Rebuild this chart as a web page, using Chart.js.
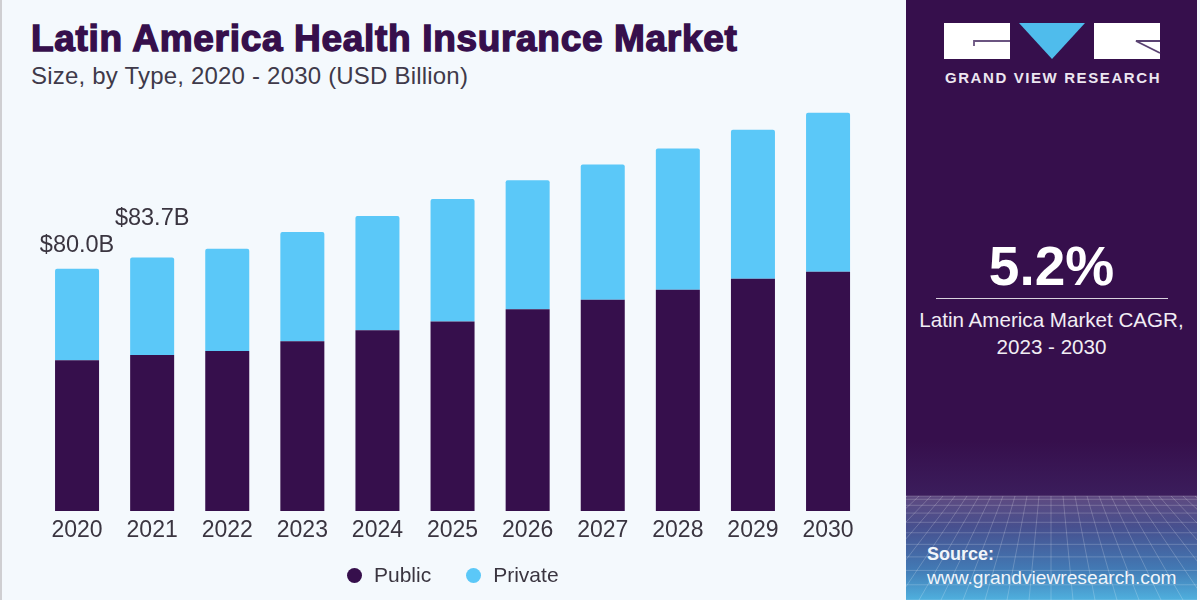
<!DOCTYPE html>
<html>
<head>
<meta charset="utf-8">
<title>Latin America Health Insurance Market</title>
<script src="https://cdn.jsdelivr.net/npm/chart.js@4"></script>
<style>
  html, body { margin: 0; padding: 0; }
  body { width: 1200px; height: 600px; position: relative; overflow: hidden; background: #f4f9fd; font-family: "Liberation Sans", Arial, sans-serif; }
  #edge { position: absolute; left: 0; top: 0; width: 2px; height: 600px; background: #cfcfd2; }
  #title { position: absolute; left: 31px; top: 18px; font-size: 37px; line-height: 42px; font-weight: 700; letter-spacing: 0.68px; color: #360f4c; -webkit-text-stroke: 1.4px #360f4c; white-space: nowrap; }
  #subtitle { position: absolute; left: 31px; top: 62px; font-size: 24px; line-height: 28px; letter-spacing: 0.2px; color: #3f3a4a; white-space: nowrap; }
  #chartBox { position: absolute; left: 0; top: 0; width: 906px; height: 600px; }
  #legend { position: absolute; left: 347px; top: 561px; display: flex; font-size: 21px; line-height: 28px; color: #3a3540; white-space: nowrap; }
  #legend span { display: flex; align-items: center; margin-right: 35px; }
  #legend i { display: block; width: 15px; height: 15px; border-radius: 50%; margin-right: 12px; }
  #panel { position: absolute; left: 906px; top: 0; width: 291px; height: 600px; background: #360f4c; overflow: hidden; color: #fff; }
  #panel svg { position: absolute; left: 0; top: 0; }
  #brand { position: absolute; left: 1.5px; width: 291px; top: 69px; text-align: center; font-size: 15px; line-height: 18px; font-weight: 700; letter-spacing: 1.6px; color: #ecE6f0; }
  #cagr { position: absolute; left: 0; width: 291px; top: 234px; text-align: center; font-size: 55px; line-height: 64px; font-weight: 700; }
  #rule { position: absolute; left: 30px; top: 298px; width: 232px; height: 1px; background: #d9d2de; }
  #cagrNote { position: absolute; left: 0; width: 291px; top: 306px; text-align: center; font-size: 20.6px; line-height: 27px; color: #f1edf4; }
  #source { position: absolute; left: 21px; top: 543px; font-size: 19.2px; line-height: 23px; color: #f1f5fa; white-space: nowrap; }
  #source b { display: block; font-size: 18px; }
</style>
</head>
<body>
<div id="edge"></div>
<div id="title">Latin America Health Insurance Market</div>
<div id="subtitle">Size, by Type, 2020 - 2030 (USD Billion)</div>
<div id="chartBox"><canvas id="chart"></canvas></div>
<div id="legend"></div>
<div id="panel">
  <svg id="deco" width="291" height="600"></svg>
  <div id="brand">GRAND VIEW RESEARCH</div>
  <div id="cagr">5.2%</div>
  <div id="rule"></div>
  <div id="cagrNote">Latin America Market CAGR,<br>2023 - 2030</div>
  <div id="source"><b>Source:</b>www.grandviewresearch.com</div>
</div>
<script>
const years = ['2020', '2021', '2022', '2023', '2024', '2025', '2026', '2027', '2028', '2029', '2030'];
const publicValues = [49.8, 51.5, 52.8, 56.1, 59.7, 62.6, 66.6, 69.8, 73.1, 76.7, 79.0];
const privateValues = [30.2, 32.2, 33.8, 36.0, 37.7, 40.4, 42.6, 44.6, 46.6, 49.2, 52.5];
const totalLabels = ['$80.0B', '$83.7B'];

const PURPLE = '#360f4c';
const BLUE = '#5bc8f8';
const FONT = '"Liberation Sans", Arial, sans-serif';

// total labels sit above the first two stacks
const totalLabelPlugin = {
  id: 'totalLabels',
  afterDatasetsDraw(chart) {
    const { ctx, scales: { x, y } } = chart;
    const lifts = [23, 39];
    ctx.save();
    ctx.font = '23.5px ' + FONT;
    ctx.fillStyle = '#3a3540';
    ctx.textAlign = 'center';
    ctx.textBaseline = 'middle';
    totalLabels.forEach((text, i) => {
      ctx.fillText(text, x.getPixelForValue(i), y.getPixelForValue(publicValues[i] + privateValues[i]) - lifts[i]);
    });
    ctx.restore();
  }
};

const chart = new Chart(document.getElementById('chart'), {
  type: 'bar',
  data: {
    labels: years,
    datasets: [
      { label: 'Public', data: publicValues, backgroundColor: PURPLE },
      { label: 'Private', data: privateValues, backgroundColor: BLUE, borderRadius: { topLeft: 2, topRight: 2 } }
    ]
  },
  options: {
    responsive: true,
    maintainAspectRatio: false,
    animation: false,
    barPercentage: 0.586,
    categoryPercentage: 1,
    layout: { padding: { left: 39.5, right: 40.4, top: 101, bottom: 49.4 } },
    plugins: {
      tooltip: { enabled: false },
      legend: { display: false }
    },
    scales: {
      x: {
        stacked: true,
        grid: { display: false, drawTicks: false },
        border: { display: false },
        ticks: {
          color: '#3a3540',
          padding: 6,
          maxRotation: 0,
          autoSkip: false,
          font: { family: FONT, size: 23 }
        }
      },
      y: { stacked: true, display: false, min: 0, max: 135.4 }
    }
  },
  plugins: [totalLabelPlugin]
});

// HTML legend, the item gap is too wide for the built-in one
chart.data.datasets.forEach(ds => {
  const item = document.createElement('span');
  const dot = document.createElement('i');
  dot.style.background = ds.backgroundColor;
  item.appendChild(dot);
  item.appendChild(document.createTextNode(ds.label));
  document.getElementById('legend').appendChild(item);
});

// Side panel artwork: logo blocks and the wire-grid floor at the bottom
(function drawPanel() {
  const NS = 'http://www.w3.org/2000/svg';
  const svg = document.getElementById('deco');
  function add(tag, attrs) {
    const el = document.createElementNS(NS, tag);
    Object.keys(attrs).forEach(k => el.setAttribute(k, attrs[k]));
    svg.appendChild(el);
    return el;
  }
  function gradient(id, stops) {
    const grad = document.createElementNS(NS, 'linearGradient');
    grad.id = id;
    grad.setAttribute('x1', 0); grad.setAttribute('y1', 0);
    grad.setAttribute('x2', 0); grad.setAttribute('y2', 1);
    stops.forEach(s => {
      const stop = document.createElementNS(NS, 'stop');
      stop.setAttribute('offset', s[0]);
      stop.setAttribute('stop-color', s[1]);
      grad.appendChild(stop);
    });
    defs.appendChild(grad);
  }
  const defs = add('defs', {});
  gradient('haze', [[0, '#360f4c'], [1, '#3b1d5c']]);
  gradient('floor', [[0, '#5f4a80'], [0.3, '#47508f'], [0.7, '#4279b4'], [1, '#4fb0de']]);

  add('rect', { x: 0, y: 440, width: 291, height: 56, fill: 'url(#haze)' });
  add('rect', { x: 0, y: 496, width: 291, height: 104, fill: 'url(#floor)' });

  // floor lines get denser towards the horizon
  for (let i = 0; i < 11; i++) {
    const t = i / 10;
    const ly = 496 + 104 * Math.pow(t, 1.5);
    add('line', { x1: 0, y1: ly, x2: 291, y2: ly, stroke: '#ffffff', 'stroke-opacity': 0.2, 'stroke-width': 1 });
  }
  for (let i = -16; i <= 16; i++) {
    const topX = 145 + i * 12;
    const botX = 145 + i * 22;
    add('line', { x1: topX, y1: 496, x2: botX, y2: 600, stroke: '#ffffff', 'stroke-opacity': 0.2, 'stroke-width': 1 });
  }

  // logo
  add('rect', { x: 38, y: 23, width: 66, height: 36, fill: '#ffffff' });
  add('path', { d: 'M68 46 V41 H104', fill: 'none', stroke: '#6a5480', 'stroke-width': 1.8 });
  add('polygon', { points: '113,23 179,23 146,59', fill: '#4fbcec' });
  add('rect', { x: 188, y: 23, width: 66, height: 36, fill: '#ffffff' });
  add('path', { d: 'M254 41 H230 L254 53', fill: 'none', stroke: '#5a4272', 'stroke-width': 1.8 });
})();
</script>
</body>
</html>
